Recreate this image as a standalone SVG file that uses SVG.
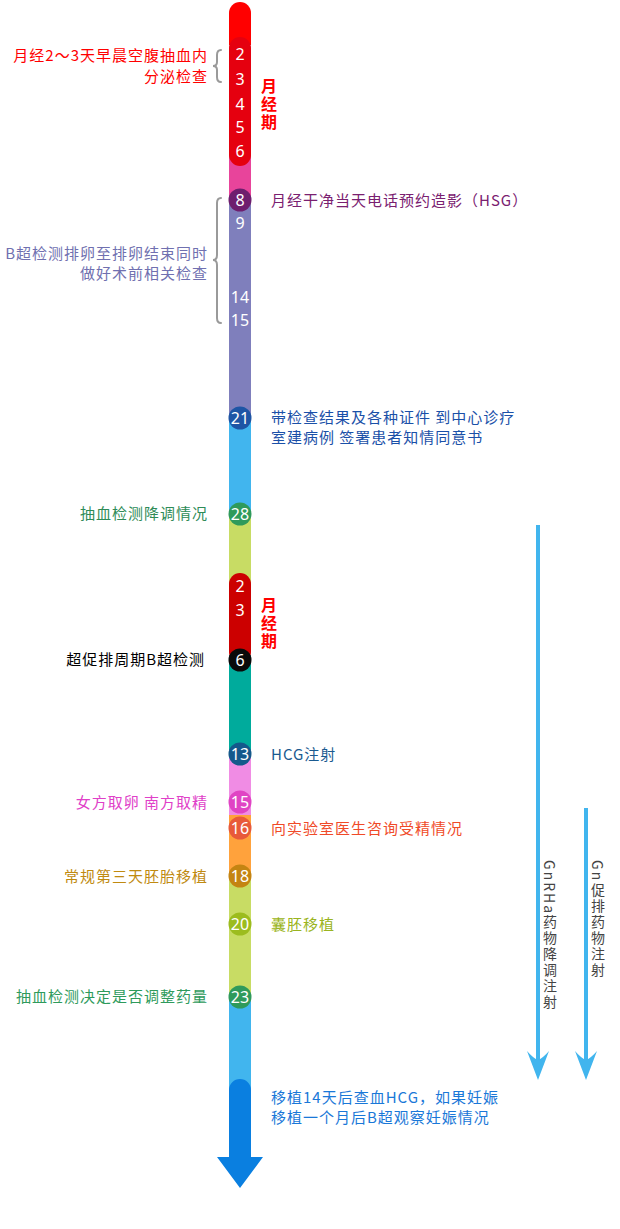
<svg xmlns="http://www.w3.org/2000/svg" width="620" height="1229" viewBox="0 0 620 1229">
<style>
.n{font-family:"Noto Sans","DejaVu Sans",sans-serif;font-size:16px;fill:#fff;text-anchor:middle}
.t{font-family:"Noto Sans CJK SC","Noto Sans",sans-serif;font-size:15px;letter-spacing:1px}
.r{text-anchor:end}
.p{font-family:"Noto Sans CJK SC",sans-serif;font-size:16px;font-weight:bold;fill:#ff0000;writing-mode:vertical-rl;letter-spacing:2px}
.br{fill:none;stroke:#9a9a9a;stroke-width:2;stroke-linecap:round}
.ar{stroke:#41b5ee;stroke-width:4;fill:none}
.ah{fill:#41b5ee}
.v{font-family:"Noto Sans CJK SC",sans-serif;font-size:14px;fill:#444;writing-mode:vertical-rl;letter-spacing:2px}
</style>
<rect width="620" height="1229" fill="#fff"/>
<g id="bar">
<path d="M229,13 a11,11 0 0 1 22,0 V45 H229 Z" fill="#ff0000"/>
<rect x="229" y="150" width="22" height="48" fill="#e8449b"/>
<rect x="229" y="196" width="22" height="221" fill="#7f7fbc"/>
<rect x="229" y="416" width="22" height="98" fill="#41b5ee"/>
<rect x="229" y="513" width="22" height="80" fill="#c8dc64"/>
<rect x="229" y="655" width="22" height="96" fill="#00ab9c"/>
<rect x="229" y="750" width="22" height="66" fill="#f08ce4"/>
<rect x="229" y="815" width="22" height="66" fill="#ffa23c"/>
<rect x="229" y="880" width="22" height="121" fill="#c8dc64"/>
<rect x="229" y="1000" width="22" height="95" fill="#41b5ee"/>
<path d="M229,1090 a11,11 0 0 1 22,0 V1157 H263 L240,1188 L217,1157 H229 Z" fill="#0a7fe0"/>
</g>
<g id="period1">
<rect x="229" y="37" width="22" height="129" rx="11" fill="#e5000f"/>
<text class="n" x="240" y="60">2</text>
<text class="n" x="240" y="85">3</text>
<text class="n" x="240" y="110">4</text>
<text class="n" x="240" y="133">5</text>
<text class="n" x="240" y="157">6</text>
<text class="p" x="269" y="78">月经期</text>
</g>
<g id="note-hormone">
<text class="t r" x="208" y="61" fill="#ff0000">月经2～3天早晨空腹抽血内</text>
<text class="t r" x="208" y="82" fill="#ff0000">分泌检查</text>
</g>
<g id="day8">
<circle cx="240" cy="200" r="11.5" fill="#6e1e6e"/>
<text class="n" x="240" y="206">8</text>
<text class="t" x="271" y="206" fill="#7a2070">月经干净当天电话预约造影（HSG）</text>
</g>
<g id="day9-15">
<text class="n" x="240" y="229" fill="#eeeef6">9</text>
<text class="n" x="240" y="303" fill="#eeeef6">14</text>
<text class="n" x="240" y="326" fill="#eeeef6">15</text>
<text class="t r" x="208" y="259" fill="#7070b0">B超检测排卵至排卵结束同时</text>
<text class="t r" x="208" y="279" fill="#7070b0">做好术前相关检查</text>
</g>
<g id="day21">
<circle cx="240" cy="418" r="11.5" fill="#1e55a5"/>
<text class="n" x="240" y="424">21</text>
<text class="t" x="271" y="423" fill="#1a50a8">带检查结果及各种证件 到中心诊疗</text>
<text class="t" x="271" y="443" fill="#1a50a8">室建病例 签署患者知情同意书</text>
</g>
<g id="day28">
<circle cx="240" cy="514" r="11.5" fill="#2f9a5b"/>
<text class="n" x="240" y="520">28</text>
<text class="t r" x="208" y="519" fill="#2e8b57">抽血检测降调情况</text>
</g>
<g id="period2">
<rect x="229" y="573" width="22" height="90" rx="11" fill="#cc0000"/>
<text class="n" x="240" y="592">2</text>
<text class="n" x="240" y="616">3</text>
<text class="p" x="269" y="597">月经期</text>
</g>
<g id="day6">
<circle cx="240" cy="660" r="11.5" fill="#0a0a0a"/>
<text class="n" x="240" y="666">6</text>
<text class="t r" x="205" y="665" fill="#000">超促排周期B超检测</text>
</g>
<g id="day13">
<circle cx="240" cy="754" r="11.5" fill="#14598b"/>
<text class="n" x="240" y="760">13</text>
<text class="t" x="271" y="760" fill="#1a5a90">HCG注射</text>
</g>
<g id="day15">
<circle cx="240" cy="802" r="11.5" fill="#e044c4"/>
<text class="n" x="240" y="808">15</text>
<text class="t r" x="208" y="808" fill="#e040c8">女方取卵 南方取精</text>
</g>
<g id="day16">
<circle cx="240" cy="828" r="11.5" fill="#e85a3a"/>
<text class="n" x="240" y="834">16</text>
<text class="t" x="271" y="834" fill="#f04a28">向实验室医生咨询受精情况</text>
</g>
<g id="day18">
<circle cx="240" cy="876" r="11.5" fill="#c48412"/>
<text class="n" x="240" y="882">18</text>
<text class="t r" x="208" y="882" fill="#c08a10">常规第三天胚胎移植</text>
</g>
<g id="day20">
<circle cx="240" cy="924" r="11.5" fill="#9cbc1e"/>
<text class="n" x="240" y="930">20</text>
<text class="t" x="271" y="930" fill="#9ab420">囊胚移植</text>
</g>
<g id="day23">
<circle cx="240" cy="997" r="11.5" fill="#2f9a5b"/>
<text class="n" x="240" y="1003">23</text>
<text class="t r" x="208" y="1002" fill="#2e9a5b">抽血检测决定是否调整药量</text>
</g>
<g id="final">
<text class="t" x="271" y="1103" fill="#1a78d8">移植14天后查血HCG，如果妊娠</text>
<text class="t" x="271" y="1123" fill="#1a78d8">移植一个月后B超观察妊娠情况</text>
</g>
<g id="connectors">
<path class="br" d="M221,50 Q217,50 217,55 V62 Q217,66 213,66 Q217,66 217,70 V77 Q217,82 221,82"/>
<path class="br" d="M221,198 Q217,198 217,203 V255 Q217,260 213,260 Q217,260 217,265 V318 Q217,323 221,323"/>
<line class="ar" x1="538" y1="525" x2="538" y2="1066"/>
<path class="ah" d="M538,1080 L527,1051 Q533,1058 538,1060 Q543,1058 549,1051 Z"/>
<line class="ar" x1="586" y1="808" x2="586" y2="1066"/>
<path class="ah" d="M586,1080 L575,1051 Q581,1058 586,1060 Q591,1058 597,1051 Z"/>
</g>
<g id="label-gnrha">
<text class="v" x="550" y="860">GnRHa药物降调注射</text>
</g>
<g id="label-gn">
<text class="v" x="598" y="860">Gn促排药物注射</text>
</g>
</svg>
